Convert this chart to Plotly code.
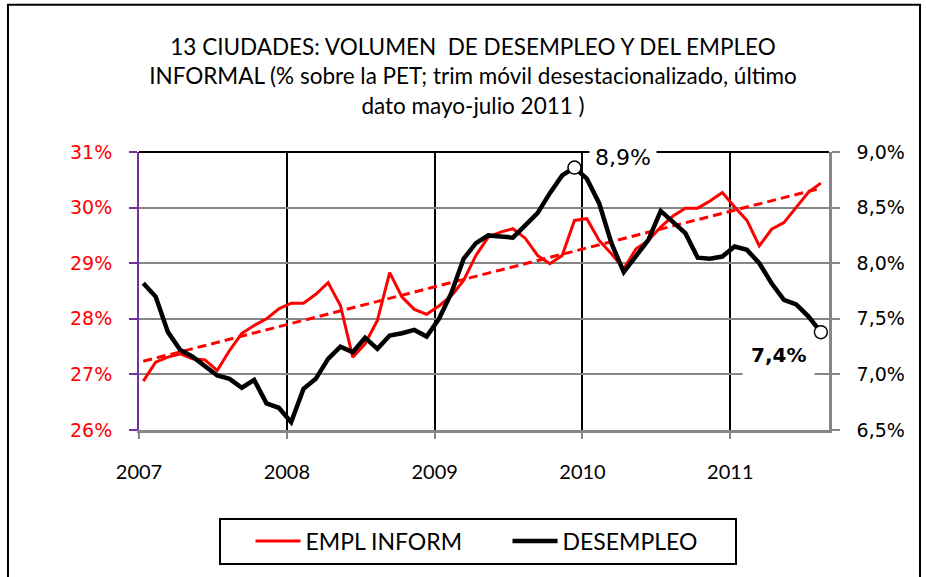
import numpy as np
import plotly.graph_objects as go

# ---------------- data ----------------
# monthly observations, Jan 2007 (index 0) .. Aug 2011 (index 55)
month_index = list(range(56))
year_labels = ["2007", "2008", "2009", "2010", "2011"]
year_tick_pos = [-0.35, 11.65, 23.65, 35.65, 47.65]

# EMPL INFORM (% of PET, left axis)
informal = [26.88, 27.22, 27.31, 27.37, 27.28, 27.26, 27.07, 27.43, 27.74, 27.88,
            28.00, 28.18, 28.28, 28.28, 28.44, 28.65, 28.24, 27.31, 27.55, 27.97,
            28.83, 28.39, 28.17, 28.08, 28.23, 28.41, 28.69, 29.14, 29.47, 29.56,
            29.62, 29.45, 29.14, 28.99, 29.14, 29.77, 29.80, 29.41, 29.17, 28.90,
            29.26, 29.41, 29.65, 29.85, 29.99, 29.99, 30.12, 30.27, 30.01, 29.77,
            29.31, 29.61, 29.73, 30.01, 30.28, 30.44]

# DESEMPLEO (% of PET, right axis)
desempleo = [7.82, 7.70, 7.38, 7.22, 7.16, 7.07, 6.99, 6.96, 6.88, 6.95,
             6.74, 6.70, 6.57, 6.87, 6.96, 7.14, 7.25, 7.20, 7.33, 7.23,
             7.35, 7.37, 7.40, 7.34, 7.50, 7.73, 8.04, 8.18, 8.25, 8.24,
             8.23, 8.34, 8.45, 8.63, 8.79, 8.86, 8.76, 8.54, 8.18, 7.92,
             8.06, 8.21, 8.47, 8.37, 8.27, 8.05, 8.04, 8.06, 8.15, 8.12,
             8.00, 7.82, 7.67, 7.63, 7.52, 7.38]

series_names = ["EMPL INFORM", "DESEMPLEO"]
highlight_idx = [35, 55]
highlight_text = ["8,9%", "7,4%"]

left_ticks = [26, 27, 28, 29, 30, 31]
left_labels = ["26%", "27%", "28%", "29%", "30%", "31%"]
right_ticks = [6.5, 7.0, 7.5, 8.0, 8.5, 9.0]
right_labels = ["6,5%", "7,0%", "7,5%", "8,0%", "8,5%", "9,0%"]

title_text = ("13 CIUDADES: VOLUMEN  DE DESEMPLEO Y DEL EMPLEO<br>"
              "INFORMAL (% sobre la PET; trim móvil desestacionalizado, último<br>"
              "dato mayo-julio 2011 )")

# linear trend of informal employment
slope, intercept = np.polyfit(month_index, informal, 1)
trend = [intercept + slope * m for m in month_index]

SANS = "Lato, 'Open Sans', sans-serif"
DEJ = "'DejaVu Sans', Verdana, sans-serif"
RED = "#FF0000"
GRID = "#868686"
PURPLE = "#7030A0"

fig = go.Figure()
fig.add_trace(go.Scatter(x=month_index, y=informal, mode="lines", name=series_names[0],
                         line=dict(color=RED, width=3), yaxis="y"))
fig.add_trace(go.Scatter(x=month_index, y=trend, mode="lines", showlegend=False,
                         line=dict(color=RED, width=3, dash="9px,5px"), yaxis="y",
                         hoverinfo="skip"))
fig.add_trace(go.Scatter(x=month_index, y=desempleo, mode="lines", name=series_names[1],
                         line=dict(color="black", width=4.5), yaxis="y2"))
fig.add_trace(go.Scatter(x=[month_index[i] for i in highlight_idx],
                         y=[desempleo[i] for i in highlight_idx],
                         mode="markers", showlegend=False, yaxis="y2",
                         marker=dict(size=13, color="white",
                                     line=dict(color="black", width=1.5))))

# value labels
fig.add_annotation(x=month_index[highlight_idx[0]], y=desempleo[highlight_idx[0]],
                   xref="x", yref="y2", text=highlight_text[0], showarrow=False,
                   xshift=49, yshift=10, bgcolor="white", borderpad=5,
                   font=dict(family=DEJ, size=22, color="black"))
fig.add_annotation(x=month_index[highlight_idx[1]], y=desempleo[highlight_idx[1]],
                   xref="x", yref="y2", text="<b>" + highlight_text[1] + "</b>", showarrow=False,
                   xshift=-42, yshift=-23, bgcolor="white", borderpad=8,
                   font=dict(family=DEJ, size=20, color="black"))

fig.update_layout(
    width=926, height=577, autosize=False,
    margin=dict(l=139, r=97, t=152, b=147),
    paper_bgcolor="white", plot_bgcolor="white",
    title=dict(text=title_text, x=473 / 926, xanchor="center", xref="container",
               y=1 - 55 / 577, yanchor="top", yref="container",
               font=dict(family=SANS, size=22.5, color="black")),
    xaxis=dict(range=[-0.35, 55.66], tickmode="array", tickvals=year_tick_pos,
               ticktext=year_labels, showgrid=True, gridcolor="black", gridwidth=1.5,
               showline=True, linecolor=GRID, linewidth=2.5, ticks="outside",
               ticklen=6, tickwidth=1.5, tickcolor=GRID, zeroline=False,
               ticklabelstandoff=16,
               tickfont=dict(family=SANS, size=20, color="black")),
    yaxis=dict(range=[26, 31], tickmode="array", tickvals=left_ticks, ticktext=left_labels,
               showgrid=True, gridcolor=GRID, gridwidth=1.5, showline=True,
               linecolor=PURPLE, linewidth=2, ticks="outside", ticklen=8, tickwidth=2,
               tickcolor=PURPLE, zeroline=False, ticklabelstandoff=13,
               tickfont=dict(family=DEJ, size=19, color=RED)),
    yaxis2=dict(range=[6.5, 9.0], overlaying="y", side="right", tickmode="array",
                tickvals=right_ticks, ticktext=right_labels, showgrid=False,
                showline=True, linecolor=GRID, linewidth=2.5, ticks="outside",
                ticklen=8, tickwidth=2, tickcolor=GRID, zeroline=False,
                ticklabelstandoff=13,
                tickfont=dict(family=DEJ, size=19, color="black")),
    legend=dict(orientation="h", x=0.4906, xanchor="center", y=-0.315, yanchor="top",
                bordercolor="black", borderwidth=2, bgcolor="white",
                entrywidth=167, indentation=30, itemwidth=45,
                font=dict(family=SANS, size=23, color="black")),
    shapes=[
        dict(type="line", xref="paper", yref="paper", x0=0, x1=1, y0=1, y1=1,
             line=dict(color="black", width=2), layer="above"),
        dict(type="rect", xref="paper", yref="paper", x0=-0.1899, x1=1.1319,
             y0=-0.55, y1=1.5297, line=dict(color="black", width=2), layer="above"),
    ],
)

fig.write_html("out.html", config={"displayModeBar": False},
               post_script="document.body.style.margin='0px';document.body.style.overflow='hidden';")
